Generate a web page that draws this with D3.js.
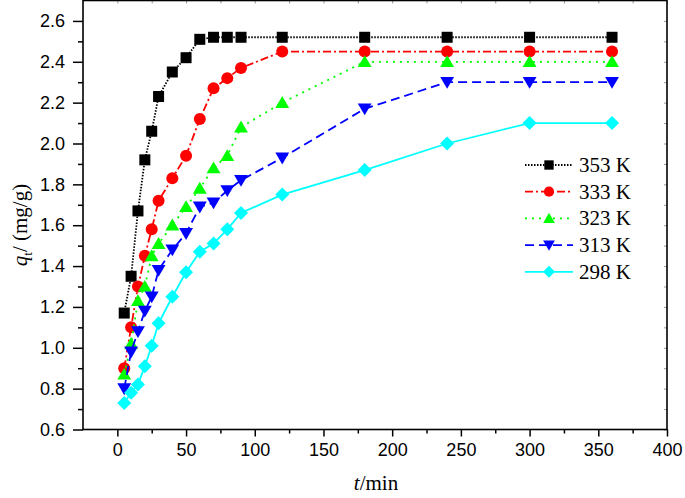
<!DOCTYPE html>
<html>
<head>
<meta charset="utf-8">
<script src="https://cdn.jsdelivr.net/npm/d3@7"></script>
<style>
html,body{margin:0;padding:0;background:#fff;}
svg{display:block;}
</style>
</head>
<body>
<svg id="chart" width="685" height="498"></svg>
<script>
const time = [5,10,15,20,25,30,40,50,60,70,80,90,120,180,240,300,360];
const q353 = [1.17,1.35,1.67,1.92,2.06,2.23,2.35,2.42,2.51,2.52,2.52,2.52,2.52,2.52,2.52,2.52,2.52];
const q333 = [0.90,1.10,1.30,1.45,1.58,1.72,1.83,1.94,2.12,2.27,2.32,2.37,2.45,2.45,2.45,2.45,2.45];
const q323 = [0.87,1.02,1.23,1.30,1.45,1.51,1.60,1.69,1.78,1.88,1.94,2.08,2.20,2.40,2.40,2.40,2.40];
const q313 = [0.80,0.98,1.08,1.18,1.25,1.38,1.48,1.56,1.69,1.71,1.77,1.82,1.93,2.17,2.30,2.30,2.30];
const q298 = [0.73,0.78,0.82,0.91,1.01,1.12,1.25,1.37,1.47,1.51,1.58,1.66,1.75,1.87,2.00,2.10,2.10];
const seriesNames = ["353 K","333 K","323 K","313 K","298 K"];
const xTicks = [0,50,100,150,200,250,300,350,400];
const xMinor = [25,75,125,175,225,275,325,375];
const yTicks = [0.6,0.8,1.0,1.2,1.4,1.6,1.8,2.0,2.2,2.4,2.6];
const yMinor = [0.7,0.9,1.1,1.3,1.5,1.7,1.9,2.1,2.3,2.5];

const styles = [
  {color:"#000000", dash:"1.5,1.5", marker:"square"},
  {color:"#ff0000", dash:"8,3,2,3", marker:"circle"},
  {color:"#00ff00", dash:"2,5", marker:"up"},
  {color:"#0000ff", dash:"9,5", marker:"down"},
  {color:"#00ffff", dash:null, marker:"diamond"}
];
const values = [q353,q333,q323,q313,q298];

const svg = d3.select("#chart");
const L = 83, R = 667, T = 0.5, B = 429.5;
const x = d3.scaleLinear().domain([-25,400]).range([L,R]);
const y = d3.scaleLinear().domain([0.6,2.7]).range([B,T]);

const sans = "'Liberation Sans', Arial, sans-serif";
const serif = "'Liberation Serif', 'Times New Roman', serif";

const gx = svg.append("g").attr("transform",`translate(0,${B})`)
  .call(d3.axisBottom(x).tickValues(xTicks).tickSize(7).tickPadding(7).tickFormat(d3.format("d")));
const gxm = svg.append("g").attr("transform",`translate(0,${B})`)
  .call(d3.axisBottom(x).tickValues(xMinor).tickSize(4).tickFormat(""));
const gy = svg.append("g").attr("transform",`translate(${L},0)`)
  .call(d3.axisLeft(y).tickValues(yTicks).tickSize(10).tickPadding(8).tickFormat(d3.format(".1f")));
const gym = svg.append("g").attr("transform",`translate(${L},0)`)
  .call(d3.axisLeft(y).tickValues(yMinor).tickSize(5).tickFormat(""));
const gt = svg.append("g").attr("transform",`translate(0,${T})`)
  .call(d3.axisBottom(x).tickValues(xTicks.concat(xMinor)).tickSize(3).tickFormat(""));
const gr = svg.append("g").attr("transform",`translate(${R},0)`)
  .call(d3.axisRight(y).tickValues(yTicks.concat(yMinor)).tickSize(-3).tickFormat(""));
[gx,gxm,gy,gym,gt,gr].forEach(g=>{
  g.select(".domain").remove();
  g.selectAll(".tick line").attr("stroke","#000").attr("stroke-width",1.5);
  g.selectAll("text").attr("font-family",sans).attr("font-size",18).attr("fill","#000");
});
gt.selectAll(".tick line").attr("stroke","#999").attr("stroke-width",1);
gr.selectAll(".tick line").attr("stroke","#999").attr("stroke-width",1);

svg.append("rect").attr("x",L).attr("y",T).attr("width",R-L).attr("height",B-T)
  .attr("fill","none").attr("stroke","#000").attr("stroke-width",1.6);

function drawMarker(g, type, cx, cy, color, scale){
  const s = scale||1;
  if(type==="square"){
    g.append("rect").attr("x",cx-5.5*s).attr("y",cy-5.5*s).attr("width",11*s).attr("height",11*s).attr("fill",color);
  } else if(type==="circle"){
    g.append("circle").attr("cx",cx).attr("cy",cy).attr("r",6*s).attr("fill",color);
  } else if(type==="up"){
    const h=6.6*s;
    g.append("path").attr("d",`M${cx},${cy-h}L${cx+h*1.05},${cy+h*0.8}L${cx-h*1.05},${cy+h*0.8}Z`).attr("fill",color);
  } else if(type==="down"){
    const h=6.6*s;
    g.append("path").attr("d",`M${cx},${cy+h}L${cx+h*1.05},${cy-h*0.8}L${cx-h*1.05},${cy-h*0.8}Z`).attr("fill",color);
  } else if(type==="diamond"){
    const h=7*s;
    g.append("path").attr("d",`M${cx},${cy-h}L${cx+h},${cy}L${cx},${cy+h}L${cx-h},${cy}Z`).attr("fill",color);
  }
}

const line = d3.line().x(d=>x(d[0])).y(d=>y(d[1]));
values.forEach((vals,i)=>{
  const st = styles[i];
  const pts = time.map((t,j)=>[t,vals[j]]);
  const g = svg.append("g");
  g.append("path").attr("d",line(pts)).attr("fill","none").attr("stroke",st.color)
    .attr("stroke-width",1.8).attr("stroke-dasharray",st.dash);
  pts.forEach(p=>drawMarker(g, st.marker, x(p[0]), y(p[1]), st.color, 1));
});

const legY0 = 165, legDy = 26.7;
seriesNames.forEach((name,i)=>{
  const st = styles[i];
  const cy = legY0 + i*legDy;
  const g = svg.append("g");
  g.append("line").attr("x1",525).attr("x2",573).attr("y1",cy).attr("y2",cy)
    .attr("stroke",st.color).attr("stroke-width",1.8).attr("stroke-dasharray",st.dash);
  drawMarker(g, st.marker, 549, cy, st.color, 0.85);
  g.append("text").attr("x",579).attr("y",cy+7).attr("font-family",serif).attr("font-size",21)
    .attr("fill","#000").text(name);
});

const xt = svg.append("text").attr("x",376).attr("y",490).attr("text-anchor","middle")
  .attr("font-family",serif).attr("font-size",21).attr("fill","#000");
xt.append("tspan").attr("font-style","italic").text("t");
xt.append("tspan").text("/min");

const yt = svg.append("text").attr("transform","translate(27,225) rotate(-90)").attr("text-anchor","middle")
  .attr("font-family",serif).attr("font-size",21).attr("fill","#000");
yt.append("tspan").attr("font-style","italic").text("q");
yt.append("tspan").attr("font-size",13).attr("dy",5).text("t");
yt.append("tspan").attr("dy",-5).text("/ (mg/g)");
</script>
</body>
</html>
